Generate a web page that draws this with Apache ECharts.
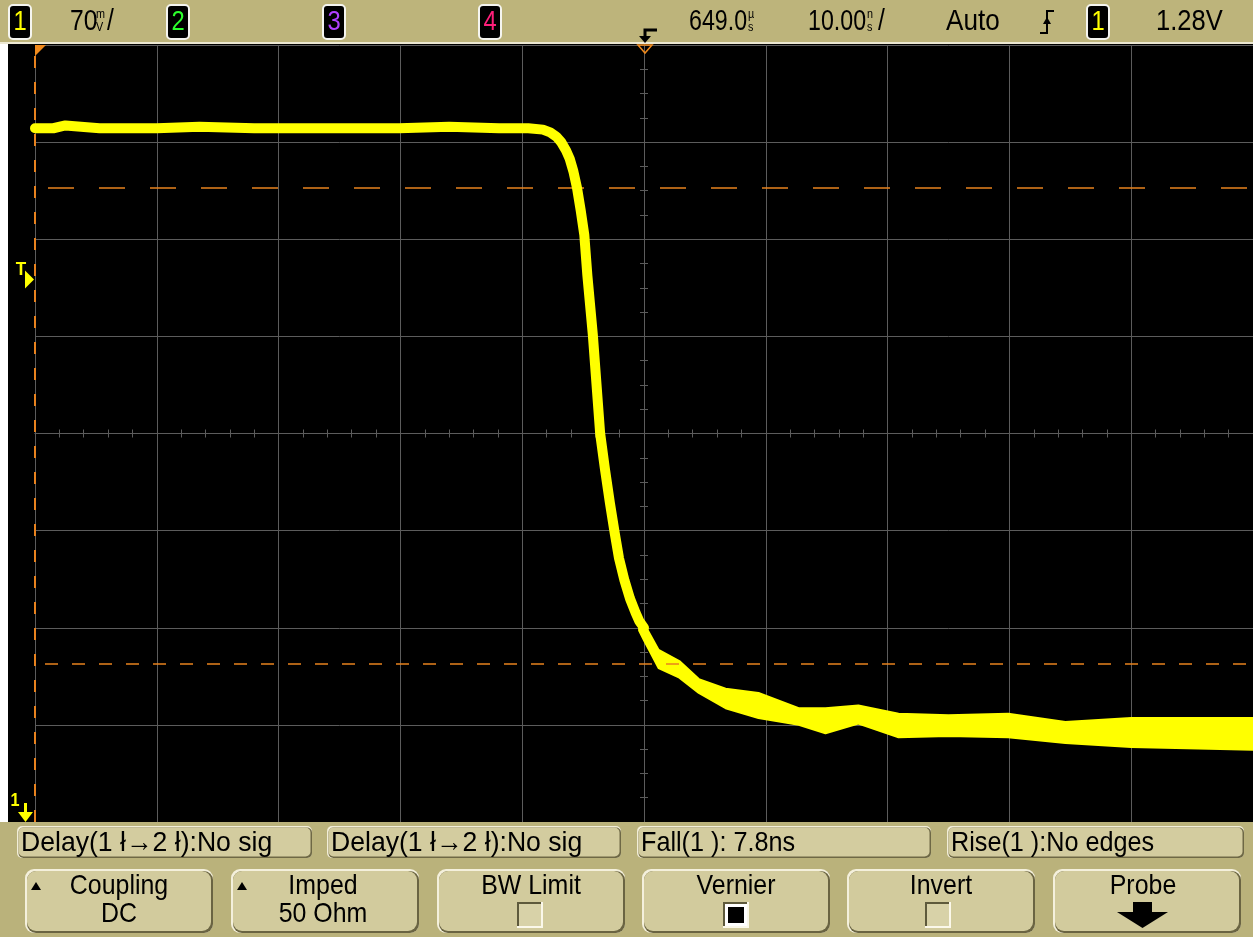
<!DOCTYPE html>
<html><head><meta charset="utf-8">
<script src="https://cdn.jsdelivr.net/npm/echarts@6/dist/echarts.min.js"></script>
<style>html,body{margin:0;padding:0;background:#000;overflow:hidden}#c{width:1253px;height:937px}</style>
</head><body><div id="c"></div>
<script>
const FONT = "'Liberation Sans','Arial',sans-serif";

// Horizontal: 10 ns/div, time relative to screen centre (ns)
const TIME_MIN = -50, TIME_MAX = 50, TIME_DIV = 10;
// Vertical: 70 mV/div, screen centre offset (mV)
const MV_DIV = 70, CENTER_MV = 1166;
const TRIGGER_MV = 1277;
const THRESH_UPPER_MV = 1343, THRESH_LOWER_MV = 1000;

// Common part of all acquisitions: high level + falling edge
const edgeTime = [-50, -48.5, -47.5, -44.7, -40, -36.5, -32, -28.3, -24, -20.1, -16, -11.9, -9.5, -8.3, -7.7, -7.2, -6.8, -6.4, -6.1, -5.8, -5.5, -5.2, -4.9, -4.65, -4.2, -3.6, -3.2, -2.8, -2.4, -2.05, -1.6, -1.15, -0.7, -0.4, 0];
const edgeMv   = [1386, 1386, 1388, 1386, 1386, 1387, 1386, 1386, 1386, 1386, 1387, 1386, 1386, 1385, 1383, 1380, 1376, 1370, 1364, 1355, 1343, 1327, 1309, 1280, 1237, 1166, 1140, 1116, 1094, 1076, 1060, 1047, 1037, 1031, 1026];

// Tail after the edge: persistence band, upper and lower envelope
const tailTime    = [-0.4, 0, 1.2, 2.9, 4.5, 6.7, 9.4, 12.7, 14.9, 17.6, 20.9, 25, 29.9, 34.6, 40, 45.5, 50];
const tailUpperMv = [1031, 1029, 1010, 1002, 989, 982, 979, 968, 968, 970, 964, 963, 964, 958, 961, 961, 961];
const tailLowerMv = [1024, 1017, 997, 990, 979, 968, 961, 956, 950, 957, 947, 948, 947, 943, 940, 939, 938];

const YELLOW = '#ffff00', ORANGE = '#e8821e', GRID = '#5c5c5c';

const chart = echarts.init(document.getElementById('c'), null, {renderer: 'canvas'});

const axisCommonX = {
  type: 'value', min: TIME_MIN, max: TIME_MAX, interval: TIME_DIV,
  axisLabel: {show: false},
  axisLine: {show: true, onZero: true, lineStyle: {color: GRID, width: 1}},
  axisTick: {show: true, length: 4, inside: false, lineStyle: {color: GRID, width: 1}},
  minorTick: {show: true, splitNumber: 5, length: 4, lineStyle: {color: GRID, width: 1}}
};
const axisCommonY = {
  type: 'value', min: -4 * MV_DIV, max: 4 * MV_DIV, interval: MV_DIV,
  axisLabel: {show: false},
  axisLine: {show: true, onZero: true, lineStyle: {color: GRID, width: 1}},
  axisTick: {show: true, length: 4, inside: false, lineStyle: {color: GRID, width: 1}},
  minorTick: {show: true, splitNumber: 4, length: 4, lineStyle: {color: GRID, width: 1}}
};

const edgeData = edgeTime.map((t, i) => [t, edgeMv[i] - CENTER_MV]);
const bandItems = tailTime.map((t, i) => [t, tailUpperMv[i] - CENTER_MV, tailLowerMv[i] - CENTER_MV]);

chart.setOption({
  backgroundColor: '#000',
  animation: false,
  grid: {left: 35, top: 45, width: 1220, height: 777, containLabel: false},
  xAxis: [
    Object.assign({}, axisCommonX, {position: 'bottom', splitLine: {show: true, lineStyle: {color: GRID, width: 1}}}),
    Object.assign({}, axisCommonX, {position: 'top', splitLine: {show: false}})
  ],
  yAxis: [
    Object.assign({}, axisCommonY, {position: 'left', splitLine: {show: true, lineStyle: {color: GRID, width: 1}}}),
    Object.assign({}, axisCommonY, {position: 'right', splitLine: {show: false}})
  ],
  series: [
    {
      name: 'edge', type: 'line', data: edgeData, symbol: 'none', silent: true, z: 5,
      lineStyle: {color: YELLOW, width: 10, join: 'round', cap: 'round'},
      markLine: {
        silent: true, symbol: ['none', 'none'], label: {show: false},
        data: [
          {yAxis: THRESH_UPPER_MV - CENTER_MV, lineStyle: {color: ORANGE, width: 1.6, type: [26, 25], dashOffset: 38}},
          {yAxis: THRESH_LOWER_MV - CENTER_MV, lineStyle: {color: ORANGE, width: 1.6, type: [13, 14], dashOffset: 17}},
          {xAxis: TIME_MIN, lineStyle: {color: ORANGE, width: 2, type: [12, 14], dashOffset: 0}}
        ]
      }
    },
    {
      name: 'band', type: 'custom', data: bandItems, silent: true, z: 4, clip: true,
      encode: {x: 0, y: [1, 2]},
      renderItem: function (params, api) {
        if (params.dataIndex !== 0) return null;
        const top = bandItems.map(d => api.coord([d[0], d[1]]));
        const bot = bandItems.map(d => api.coord([d[0], d[2]])).reverse();
        return {
          type: 'polygon',
          shape: {points: top.concat(bot)},
          style: {fill: YELLOW, stroke: YELLOW, lineWidth: 2, lineJoin: 'round'}
        };
      }
    }
  ]
});

// ---------- instrument frame ----------
const G = [];
const txt = (text, x, y, opt, sx) => G.push({type: 'text', z: 50, x, y, scaleX: sx || 0.88, style: Object.assign({
  text, x: 0, y: 0, font: '29px ' + FONT, fill: '#000', textAlign: 'left', textVerticalAlign: 'middle'}, opt || {})});
const rect = (x, y, w, h, fill, z) => G.push({type: 'rect', z: z || 40, shape: {x, y, width: w, height: h}, style: {fill}});
const poly = (points, style, z) => G.push({type: 'polygon', z: z || 60, shape: {points}, style});
const pline = (points, style, z) => G.push({type: 'polyline', z: z || 60, shape: {points}, style});

// header
rect(0, 0, 1253, 42, '#bdb47b');
rect(0, 42, 1253, 2, '#ece8d2');
function chBox(x, label, color) {
  G.push({type: 'rect', z: 45, shape: {x, y: 5, width: 22, height: 34, r: 4}, style: {fill: '#000', stroke: '#f5f5f0', lineWidth: 2}});
  txt(label, x + 11, 22, {fill: color, textAlign: 'center', font: '28px ' + FONT}, 0.85);
}
chBox(9, '1', '#ffff00');
txt('70', 70, 22, null, 0.85);
txt('m', 96, 15, {font: '12px ' + FONT}, 0.9);
txt('V', 96, 28, {font: '12px ' + FONT}, 0.9);
txt('/', 107, 22, null, 0.85);
chBox(167, '2', '#2cff2c');
chBox(323, '3', '#b040ff');
chBox(479, '4', '#ff1f7a');
// trigger position icon
pline([[657, 30], [645, 30], [645, 38]], {stroke: '#000', lineWidth: 3, fill: null});
poly([[639, 36], [651, 36], [645, 43]], {fill: '#000'});
txt('649.0', 689, 22, null, 0.8);
txt('µ', 748, 15, {font: '12px ' + FONT}, 0.9);
txt('s', 748, 28, {font: '12px ' + FONT}, 0.9);
txt('10.00', 808, 22, null, 0.8);
txt('n', 867, 15, {font: '12px ' + FONT}, 0.9);
txt('s', 867, 28, {font: '12px ' + FONT}, 0.9);
txt('/', 878, 22, null, 0.85);
txt('Auto', 946, 22, null, 0.9);
// rising-edge trigger slope glyph
pline([[1040, 33], [1047, 33], [1047, 11], [1054, 11]], {stroke: '#000', lineWidth: 2, fill: null});
poly([[1043, 24], [1051, 24], [1047, 17]], {fill: '#000'});
chBox(1087, '1', '#ffff00');
txt('1.28V', 1156, 22, null, 0.88);

// left strip
rect(0, 44, 8, 778, '#ffffff');

// bottom panel
rect(0, 822, 1253, 115, '#bab27b');
const measX = [17, 327, 637, 947], measW = [295, 294, 294, 297];
const measText = ['Delay(1 ł→2 ł):No sig', 'Delay(1 ł→2 ł):No sig', 'Fall(1 ): 7.8ns', 'Rise(1 ):No edges'];
measX.forEach((x, i) => {
  G.push({type: 'rect', z: 41, shape: {x, y: 826, width: measW[i], height: 32, r: 5}, style: {fill: '#f2eed8'}});
  G.push({type: 'rect', z: 42, shape: {x: x + 1.5, y: 827.5, width: measW[i] - 1.5, height: 30.5, r: 5}, style: {fill: '#6e6845'}});
  G.push({type: 'rect', z: 43, shape: {x: x + 1.5, y: 827.5, width: measW[i] - 3, height: 29, r: 5}, style: {fill: '#d3cc9f'}});
  txt(measText[i], x + 4, 843, {font: '28px ' + FONT}, i < 2 ? 0.95 : 0.9);
});

const keyX = [25, 231, 437, 642, 847, 1053], KW = 188;
function key(x) {
  G.push({type: 'rect', z: 41, shape: {x, y: 869, width: KW, height: 64, r: 9}, style: {fill: '#f4f0dc'}});
  G.push({type: 'rect', z: 42, shape: {x: x + 2, y: 871, width: KW - 2, height: 62, r: 9}, style: {fill: '#6a6442'}});
  G.push({type: 'rect', z: 43, shape: {x: x + 2, y: 871, width: KW - 4, height: 60, r: 9}, style: {fill: '#d2cb9d'}});
}
keyX.forEach(key);
function upTri(x) { poly([[x, 890], [x + 10, 890], [x + 5, 882]], {fill: '#000'}); }
upTri(31); upTri(237);
const KF = {textAlign: 'center', font: '28px ' + FONT};
txt('Coupling', 119, 886, KF, 0.89);
txt('DC', 119, 914, KF, 0.89);
txt('Imped', 323, 886, KF, 0.89);
txt('50 Ohm', 323, 914, KF, 0.89);
txt('BW Limit', 531, 886, KF, 0.89);
txt('Vernier', 736, 886, KF, 0.89);
txt('Invert', 941, 886, KF, 0.89);
txt('Probe', 1143, 886, KF, 0.89);
function checkbox(cx, filled) {
  const x = cx - 13, y = 902;
  G.push({type: 'rect', z: 61, shape: {x, y, width: 26, height: 26}, style: {fill: '#fbf8ea'}});
  G.push({type: 'rect', z: 62, shape: {x, y, width: 24, height: 24}, style: {fill: '#5e5a3c'}});
  G.push({type: 'rect', z: 63, shape: {x: x + 2, y: y + 2, width: 22, height: 22}, style: {fill: filled ? '#ffffff' : '#d8d2a8'}});
  if (filled) G.push({type: 'rect', z: 64, shape: {x: x + 5, y: y + 5, width: 16, height: 16}, style: {fill: '#000'}});
}
checkbox(530, false); checkbox(736, true); checkbox(938, false);
// probe arrow
poly([[1133, 902], [1152, 902], [1152, 912], [1168, 912], [1142.5, 928], [1117, 912], [1133, 912]], {fill: '#000'});

// orange markers at the top of the graticule
poly([[35, 45], [46, 45], [35, 56]], {fill: '#f08a1c'}, 100);
poly([[638, 45], [652, 45], [645, 53]], {fill: null, stroke: '#f08a1c', lineWidth: 1.5}, 100);

// trigger level marker (placed via the value scale)
const trigPx = chart.convertToPixel({xAxisIndex: 0, yAxisIndex: 0}, [TIME_MIN, TRIGGER_MV - CENTER_MV]);
const ty = trigPx[1];
txt('T', 21, ty - 10, {font: 'bold 19px ' + FONT, fill: YELLOW, textAlign: 'center'}, 0.9);
poly([[25, ty - 9], [25, ty + 9], [34, ty]], {fill: YELLOW}, 100);
// channel 1 ground reference (below screen)
txt('1', 15, 801, {font: 'bold 18px ' + FONT, fill: YELLOW, textAlign: 'center'}, 0.9);
rect(24, 803, 3, 9, YELLOW, 100);
poly([[18, 812], [33, 812], [25.5, 822]], {fill: YELLOW}, 100);

chart.setOption({graphic: {elements: G}});
</script>
</body></html>
